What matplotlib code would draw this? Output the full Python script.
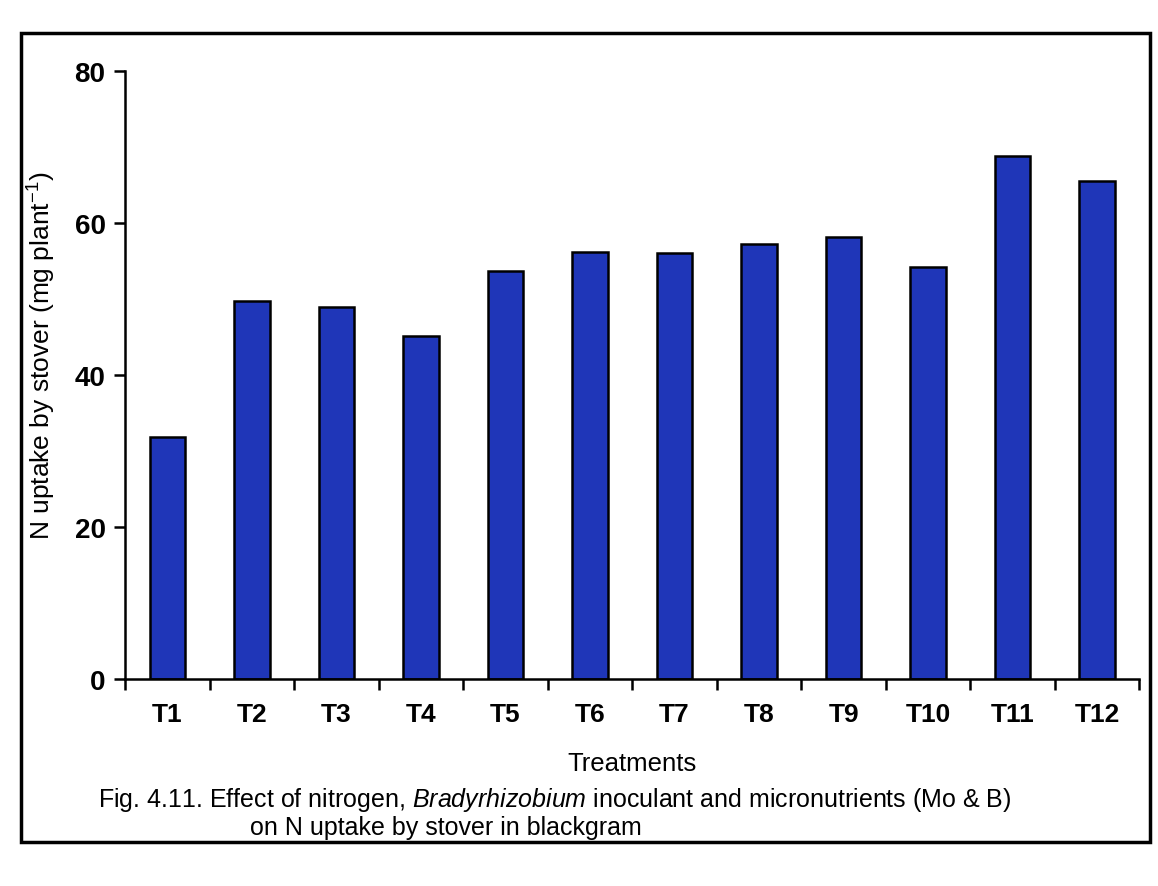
import numpy as np
import matplotlib.pyplot as plt
from matplotlib.patches import Rectangle

plt.rcParams['font.family'] = ['Liberation Sans', 'DejaVu Sans']
plt.rcParams['mathtext.fontset'] = 'custom'
plt.rcParams['mathtext.rm'] = 'Liberation Sans'
plt.rcParams['mathtext.it'] = 'Liberation Sans:italic'

treatments = ['T1', 'T2', 'T3', 'T4', 'T5', 'T6', 'T7', 'T8', 'T9', 'T10', 'T11', 'T12']
n_uptake = [31.8, 49.7, 48.9, 45.2, 53.7, 56.2, 56.1, 57.2, 58.2, 54.2, 68.8, 65.5]
y_ticks = [0, 20, 40, 60, 80]

fig = plt.figure(figsize=(11.58, 8.87), dpi=100)
ax = fig.add_axes([0.108, 0.233, 0.876, 0.686])

x = np.arange(len(treatments))
ax.bar(x, n_uptake, width=0.42, color='#1f36b8', edgecolor='black', linewidth=1.8)

ax.set_xlim(-0.5, len(treatments) - 0.5)
ax.set_ylim(0, 80)
ax.set_yticks(y_ticks)
ax.set_xticks(x)
ax.set_xticklabels(treatments)
ax.set_xticks(np.arange(-0.5, len(treatments)), minor=True)
ax.tick_params(axis='x', which='major', length=0, pad=16, labelsize=19)
ax.tick_params(axis='x', which='minor', length=8, width=1.8, direction='out')
ax.tick_params(axis='y', length=8, width=1.8, direction='out', labelsize=20, pad=6)
for lab in ax.get_xticklabels() + ax.get_yticklabels():
    lab.set_fontweight('bold')

ax.spines['top'].set_visible(False)
ax.spines['right'].set_visible(False)
ax.spines['left'].set_linewidth(1.8)
ax.spines['bottom'].set_linewidth(1.8)

ax.set_ylabel('N uptake by stover (mg plant$^{-1}$)', fontsize=19)
ax.yaxis.set_label_coords(-0.066, 0.534)
ax.set_xlabel('Treatments', fontsize=18.5)
ax.xaxis.set_label_coords(0.5, -0.117)

fig.text(0.479, 0.098,
         r'Fig. 4.11. Effect of nitrogen, $\it{Bradyrhizobium}$ inoculant and micronutrients (Mo & B)',
         ha='center', va='center', fontsize=18)
fig.text(0.216, 0.066, 'on N uptake by stover in blackgram',
         ha='left', va='center', fontsize=18)

fig.patches.append(Rectangle((0.018, 0.05), 0.975, 0.912, transform=fig.transFigure,
                             fill=False, edgecolor='black', linewidth=2.5))

plt.savefig('out.png')
